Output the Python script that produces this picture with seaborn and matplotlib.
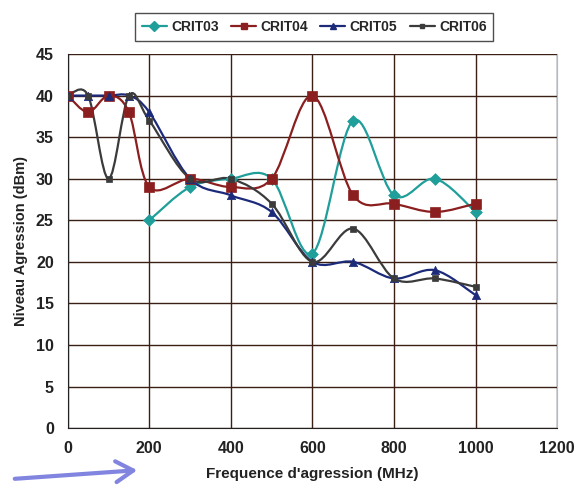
import numpy as np
import pandas as pd
import matplotlib
matplotlib.use("Agg")
import matplotlib.pyplot as plt
import seaborn as sns
from matplotlib.path import Path
from matplotlib.patches import PathPatch, FancyArrowPatch
from matplotlib.lines import Line2D

# --- Data ---
freq_crit03 = [200, 300, 400, 500, 600, 700, 800, 900, 1000]
crit03 = [25, 29, 30, 30, 21, 37, 28, 30, 26]

freq_full = [0, 50, 100, 150, 200, 300, 400, 500, 600, 700, 800, 900, 1000]
crit04 = [40, 38, 40, 38, 29, 30, 29, 30, 40, 28, 27, 26, 27]
crit05 = [40, 40, 40, 40, 38, 30, 28, 26, 20, 20, 18, 19, 16]
crit06 = [40, 40, 30, 40, 37, 30, 30, 27, 20, 24, 18, 18, 17]

x_ticks = [0, 200, 400, 600, 800, 1000, 1200]
y_ticks = [0, 5, 10, 15, 20, 25, 30, 35, 40, 45]

names = ["CRIT03", "CRIT04", "CRIT05", "CRIT06"]
colors = {"CRIT03": "#1f9e9a", "CRIT04": "#8b1e1e", "CRIT05": "#1c2a7a", "CRIT06": "#3b3b3b"}
markers = {"CRIT03": "D", "CRIT04": "s", "CRIT05": "^", "CRIT06": "s"}
msizes = {"CRIT03": 36, "CRIT04": 42, "CRIT05": 36, "CRIT06": 16}


# --- Excel-like smoothed line (Catmull-Rom as Bezier) ---
def smooth_path(xs, ys):
    pts = np.column_stack([xs, ys]).astype(float)
    verts = [pts[0]]
    codes = [Path.MOVETO]
    n = len(pts)
    for i in range(n - 1):
        p0 = pts[i - 1] if i > 0 else pts[i]
        p1 = pts[i]
        p2 = pts[i + 1]
        p3 = pts[i + 2] if i + 2 < n else pts[i + 1]
        c1 = p1 + (p2 - p0) / 6.0
        c2 = p2 - (p3 - p1) / 6.0
        verts += [c1, c2, p2]
        codes += [Path.CURVE4] * 3
    return Path(verts, codes)


series = {
    "CRIT03": (freq_crit03, crit03),
    "CRIT04": (freq_full, crit04),
    "CRIT05": (freq_full, crit05),
    "CRIT06": (freq_full, crit06),
}

frames = []
for name in names:
    xs, ys = series[name]
    frames.append(pd.DataFrame({"freq": xs, "level": ys, "serie": name}))
df = pd.concat(frames, ignore_index=True)

sns.set_style("white")
plt.rcParams["font.family"] = ["Liberation Sans", "DejaVu Sans"]
plt.rcParams["font.weight"] = "bold"

fig = plt.figure(figsize=(5.84, 4.91), dpi=100)
ax = fig.add_axes([0.116, 0.128, 0.838, 0.762])

ax.set_xlim(0, 1200)
ax.set_ylim(0, 45)
ax.set_xticks(x_ticks)
ax.set_yticks(y_ticks)
ax.grid(True, color="#3a1f14", linewidth=1.0)
ax.set_axisbelow(True)

for name in names:
    xs, ys = series[name]
    patch = PathPatch(smooth_path(xs, ys), facecolor="none",
                      edgecolor=colors[name], linewidth=1.6, zorder=3)
    ax.add_patch(patch)

for name in names:
    sub = df[df["serie"] == name]
    sns.scatterplot(data=sub, x="freq", y="level", ax=ax, color=colors[name],
                    marker=markers[name], s=msizes[name], edgecolor=colors[name],
                    linewidth=0.5, zorder=4, legend=False)

for side in ["left", "bottom"]:
    ax.spines[side].set_color("#222222")
ax.spines["top"].set_visible(False)
ax.spines["right"].set_color("#8ec8e0")
ax.tick_params(axis="x", direction="in", length=0, labelsize=11.5, pad=9)
ax.tick_params(axis="y", direction="in", length=0, labelsize=11.5, pad=10)
for lab in ax.get_xticklabels() + ax.get_yticklabels():
    lab.set_fontweight("bold")
    lab.set_color("#222222")

ax.set_xlabel("Frequence d'agression (MHz)", fontsize=11, fontweight="bold",
              color="#222222", labelpad=8)
ax.set_ylabel("Niveau Agression (dBm)", fontsize=10.5, fontweight="bold",
              color="#222222", labelpad=6)

handles = [Line2D([0], [0], color=colors[n], marker=markers[n], markersize=5 if n != "CRIT06" else 3.5,
                  linewidth=1.6, label=n) for n in names]
leg = fig.legend(handles=handles, loc="center", bbox_to_anchor=(0.538, 0.945), ncol=4,
                 frameon=True, fancybox=False, fontsize=10, handlelength=1.8,
                 columnspacing=0.9, handletextpad=0.3, borderpad=0.5)
leg.get_frame().set_edgecolor("#222222")
leg.get_frame().set_linewidth(1.0)
for t in leg.get_texts():
    t.set_fontweight("bold")

# blue arrow at bottom left
arrow = FancyArrowPatch((12 / 584, 1 - 479 / 491), (140 / 584, 1 - 470 / 491),
                        transform=fig.transFigure, arrowstyle="->,head_length=5,head_width=3",
                        color="#8285e0", linewidth=3, mutation_scale=2.5)
fig.patches.append(arrow)

fig.savefig("out.png", dpi=100)
